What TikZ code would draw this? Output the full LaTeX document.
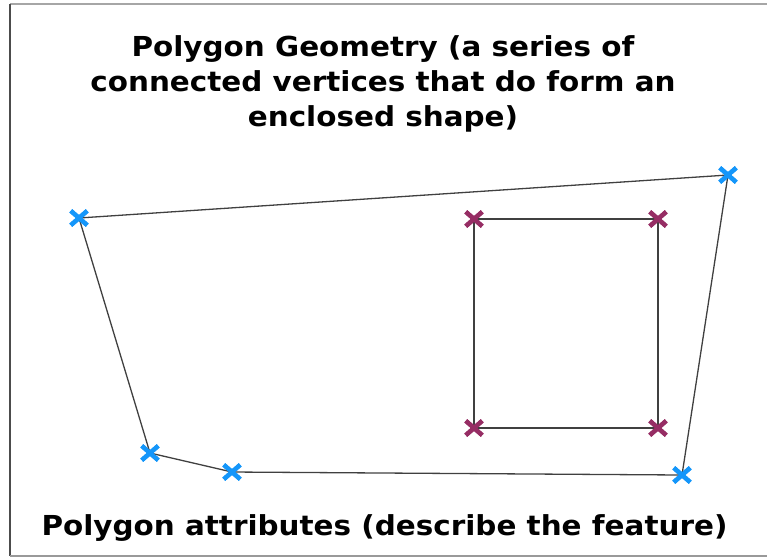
\documentclass[tikz,border=0pt]{standalone}
\usepackage{fontspec}
\setmainfont{DejaVu Sans}[FakeStretch=1.07]
\usetikzlibrary{shapes.misc}

\definecolor{vertex_blue}{RGB}{20,150,250}
\definecolor{hole_purple}{RGB}{150,45,100}

\begin{document}
\begin{tikzpicture}[
    x=1pt, y=-1pt,
    edge/.style={draw=black!75, line width=1.3pt},
    vtx/.style={cross out, draw=vertex_blue, line width=4.4pt,
                minimum width=12pt, minimum height=10pt, inner sep=0pt},
    hvtx/.style={vtx, draw=hole_purple},
    label/.style={font=\fontsize{27.5}{35}\selectfont\bfseries, align=center}
]
    \useasboundingbox (0,0) rectangle (767,558);

    % Frame
    \draw[gray!70, line width=2pt] (767,4) -- (10,4);
    \draw[black!70, line width=1.5pt] (10,4) -- (10,556);
    \draw[gray!80, line width=1.5pt] (10,556) -- (767,556);

    % Title
    \node[label, anchor=base] (title) at (383,126)
        {Polygon Geometry (a series of\\connected vertices that do form an\\enclosed shape)};

    % Outer polygon vertices
    \node[vtx] (o1) at ( 79,218) {};
    \node[vtx] (o2) at (728,175) {};
    \node[vtx] (o3) at (682,475) {};
    \node[vtx] (o4) at (232,472) {};
    \node[vtx] (o5) at (150,453) {};

    % Inner ring vertices
    \node[hvtx] (h1) at (474,219) {};
    \node[hvtx] (h2) at (658,219) {};
    \node[hvtx] (h3) at (658,428) {};
    \node[hvtx] (h4) at (474,428) {};

    % Edges
    \draw[edge] (o1.center) -- (o2.center) -- (o3.center) -- (o4.center)
        -- (o5.center) -- (o1.center);
    \draw[edge] (h1.center) -- (h2.center) -- (h3.center) -- (h4.center)
        -- (h1.center);

    % redraw markers over the edges
    \foreach \v in {o1,o2,o3,o4,o5}
        \node[vtx] at (\v) {};
    \foreach \v in {h1,h2,h3,h4}
        \node[hvtx] at (\v) {};

    % Attributes
    \node[label, anchor=base] (attr) at (384.5,535)
        {Polygon attributes (describe the feature)};

\end{tikzpicture}
\end{document}
